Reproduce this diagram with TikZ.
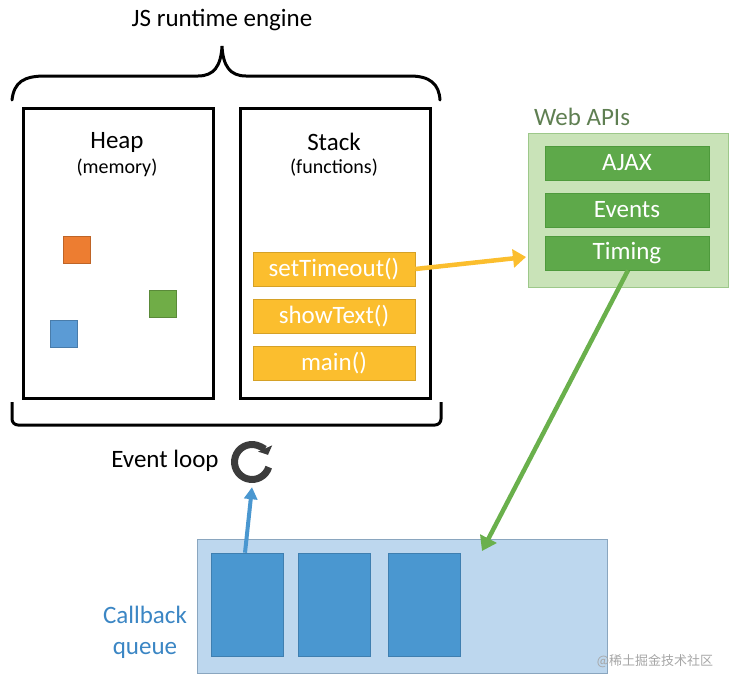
\documentclass[tikz,border=0pt]{standalone}
\usepackage{fontspec}
\setmainfont{Carlito}
\newfontfamily\cjkfont{Noto Sans CJK SC}
\usetikzlibrary{arrows.meta}
\definecolor{orsq}{HTML}{ED7D31}
\definecolor{grsq}{HTML}{70AD47}
\definecolor{blsq}{HTML}{5B9BD5}
\definecolor{stk}{HTML}{FBBE2E}
\definecolor{webout}{HTML}{C9E3B8}
\definecolor{webedge}{HTML}{9DC88A}
\definecolor{webin}{HTML}{5EA94A}
\definecolor{webinedge}{HTML}{4E9A3C}
\definecolor{webtxt}{HTML}{5F7F52}
\definecolor{cbout}{HTML}{BDD7EE}
\definecolor{cbedge}{HTML}{8AA6BF}
\definecolor{cbin}{HTML}{4A97D0}
\definecolor{cbinedge}{HTML}{3F7FB0}
\definecolor{cbtxt}{HTML}{3B86C4}
\definecolor{loopc}{HTML}{3C3C3C}
\definecolor{garrow}{HTML}{6AB04C}
\tikzset{
  x=1pt, y=-1pt,
  engbox/.style={draw=black, line width=3pt, fill=white},
  sq/.style={minimum width=27pt, minimum height=27pt, inner sep=0pt, line width=0.6pt},
  stkbox/.style={fill=stk, draw=stk!85!black, line width=0.6pt, minimum width=162pt, minimum height=34pt, inner sep=0pt, text=white, font=\fontsize{25}{27}\selectfont},
  webbox/.style={fill=webin, draw=webinedge, line width=0.6pt, minimum width=164pt, minimum height=34pt, inner sep=0pt, text=white, font=\fontsize{25}{27}\selectfont},
  cbbox/.style={fill=cbin, draw=cbinedge, line width=0.6pt, minimum width=72pt, minimum height=103pt, inner sep=0pt},
  lbl/.style={font=\fontsize{25}{27}\selectfont, inner sep=0pt},
  sublbl/.style={font=\fontsize{20}{22}\selectfont, inner sep=0pt},
}
\begin{document}
\begin{tikzpicture}
\useasboundingbox (0,0) rectangle (746,686);
% title
\node[lbl] (title) at (222,20) {JS runtime engine};
% top brace
\draw[line width=3pt, line cap=round] (12,100) .. controls (14,82) and (24,76) .. (45,76) -- (198,76) .. controls (214,76) and (221,66) .. (222,46) .. controls (223,66) and (230,76) .. (246,76) -- (410,76) .. controls (430,76) and (439,84) .. (440,100);
% heap and stack boxes
\node[engbox, minimum width=190pt, minimum height=290pt, anchor=north west] (heap) at (22,107) {};
\node[engbox, minimum width=190pt, minimum height=290pt, anchor=north west] (stack) at (239,107) {};
\node[lbl] (heapl) at (117,142) {Heap};
\node[sublbl] (heaps) at (117,168) {(memory)};
\node[lbl] (stackl) at (334,142) {Stack};
\node[sublbl] (stacks) at (334,168) {(functions)};
% squares
\node[sq, fill=orsq, draw=orsq!80!black] (sqo) at (77,250) {};
\node[sq, fill=grsq, draw=grsq!80!black] (sqg) at (163,304) {};
\node[sq, fill=blsq, draw=blsq!80!black] (sqb) at (64,334) {};
% stack items
\node[stkbox] (st1) at (334,269) {setTimeout()};
\node[stkbox] (st2) at (334,316) {showText()};
\node[stkbox] (st3) at (334,363) {main()};
% bottom bracket
\draw[line width=3pt, rounded corners=6pt] (12,402) -- (12,425) -- (441,425) -- (441,402);
% web APIs
\node[lbl, text=webtxt] (webl) at (582,117) {Web APIs};
\node[fill=webout, draw=webedge, line width=1pt, minimum width=200pt, minimum height=154pt, anchor=north west, inner sep=0pt] (web) at (528,133) {};
\node[webbox] (ajax) at (627,163) {AJAX};
\node[webbox] (events) at (627,210) {Events};
\node[webbox] (timing) at (627,253) {Timing};
% arrow stack -> web
\coordinate (oend) at (526,257);
\draw[stk, line width=4.5pt, -{Triangle[length=13pt, width=18pt]}] (st1.east) -- (oend);
% callback queue
\node[fill=cbout, draw=cbedge, line width=1pt, minimum width=410pt, minimum height=134pt, anchor=north west, inner sep=0pt] (cbq) at (197,539) {};
\node[cbbox] (cb1) at (247,604.5) {};
\node[cbbox] (cb2) at (334,604.5) {};
\node[cbbox] (cb3) at (424,604.5) {};
\node[lbl, text=cbtxt, align=center, font=\fontsize{25}{31}\selectfont] (cbl) at (145,632) {Callback\\queue};
% green arrow
\coordinate (gend) at (482,551);
\draw[garrow, line width=4.5pt, -{Triangle[length=14pt, width=18pt]}] ([xshift=1pt]timing.south) -- (gend);
% event loop
\node[lbl] (evl) at (165,461) {Event loop};
\coordinate (loopc) at (252,462);
\draw[loopc, line width=7pt, -{Triangle[length=7pt, width=15pt]}] ([shift={(-17:17.5pt)}]loopc) arc[start angle=-17, end angle=-336, radius=17.5pt];
\node[inner sep=0pt, minimum size=50pt] (loop) at (252,462) {};
% blue arrow
\draw[cbin, line width=4pt, -{Triangle[length=12pt, width=13pt]}] ([xshift=-2pt]cb1.north) -- (loop.south);
% watermark
\node[inner sep=0pt, text=gray!70, font=\cjkfont\fontsize{13}{15}\selectfont] (wm) at (655,661) {@稀土掘金技术社区};
\end{tikzpicture}
\end{document}
